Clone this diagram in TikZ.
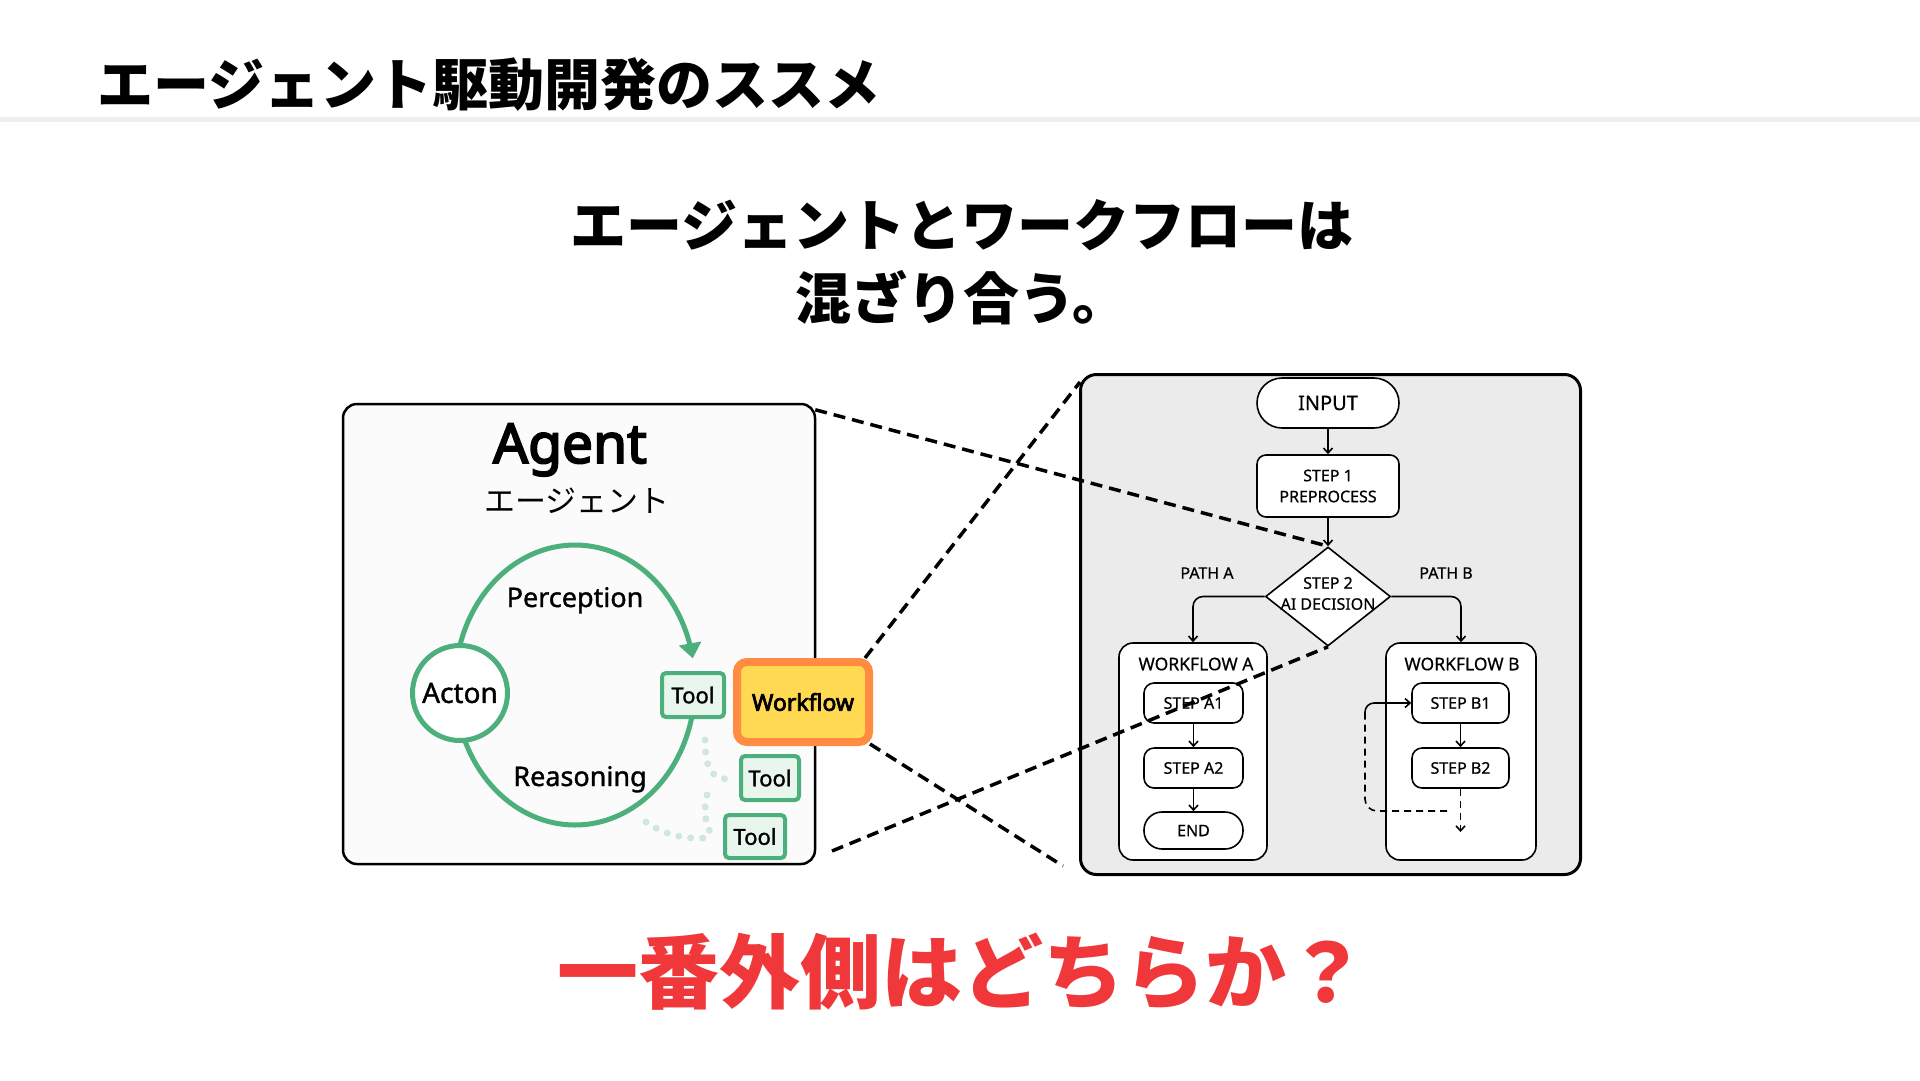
\documentclass[tikz,border=0pt]{standalone}
\usepackage{fontspec}
\setmainfont{Noto Sans}
\newfontfamily\jp{Noto Sans CJK JP}
\newfontfamily\semi[FakeBold=1.3]{Noto Sans}
\newfontfamily\flow[FakeBold=0.5]{Noto Sans}
\newfontfamily\nbold[FakeBold=3.4]{Noto Sans}
\usetikzlibrary{shapes.geometric,arrows.meta,calc}
\definecolor{grn}{HTML}{4DAF7C}
\definecolor{grnfill}{HTML}{E9F6EE}
\definecolor{dotc}{HTML}{CFE8D9}
\definecolor{orng}{HTML}{FF8C42}
\definecolor{yel}{HTML}{FFD951}
\definecolor{redt}{HTML}{F0383A}
\definecolor{panelc}{HTML}{EBEBEB}
\definecolor{sepc}{HTML}{EEEEEE}
\definecolor{agentfill}{HTML}{FBFBFB}
\tikzset{
  bigdash/.style={line width=3.5pt, dash pattern=on 12pt off 7pt, black},
  toolbox/.style={draw=grn, fill=grnfill, line width=4pt, rounded corners=4pt, inner sep=0pt, font=\semi\fontsize{22}{26}\selectfont},
  flowbox/.style={draw, line width=1.6pt, fill=white, inner sep=0pt, font=\flow\fontsize{16}{21}\selectfont, align=center},
  farrow/.style={-{Straight Barb[length=5pt,width=9pt]}, line width=1.6pt},
  dots/.style={dotc, line width=7pt, line cap=round, dash pattern=on 0pt off 12pt},
  loopline/.style={grn, line width=5pt},
  jptitle/.style={font=\jp\bfseries\fontsize{56}{67}\selectfont, inner sep=0pt},
  flabel/.style={font=\flow\fontsize{16}{20}\selectfont, inner sep=0pt},
}
\begin{document}
\begin{tikzpicture}[x=1pt,y=-1pt]
\useasboundingbox (0,0) rectangle (1920,1080);
\fill[white] (0,0) rectangle (1920,1080);

% header
\node[jptitle, anchor=west] (title) at (97.5,84.5) {エージェント駆動開発のススメ};
\draw[sepc, line width=5pt] (0,119) -- (1920,119);

\node[jptitle] (sub1) at (962,225) {エージェントとワークフローは};
\node[jptitle] (sub2) at (962,298) {混ざり合う。};

\node[font=\jp\bfseries\fontsize{81}{96}\selectfont, text=redt, inner sep=0pt] (question) at (962,972) {一番外側はどちらか？};

% agent box
\node[draw, line width=2.5pt, fill=agentfill, rounded corners=14pt, minimum width=472pt, minimum height=460pt, inner sep=0pt] (agentbox) at (579,634) {};
\node[anchor=base, font=\nbold\fontsize{55}{60}\selectfont, inner sep=0pt] (agentlbl) at (570,463) {Agent};
\node[font=\jp\fontsize{31}{36}\selectfont, inner sep=0pt] (agentjp) at (577,501) {エージェント};

% loop
\draw[loopline, -{Triangle[length=15pt,width=22pt]}] plot[domain=168:11, samples=80] ({575+120*cos(\x)},{685-140*sin(\x)});
\draw[loopline] plot[domain=-5:-165, samples=80] ({575+120*cos(\x)},{685-140*sin(\x)});
\node[anchor=base, font=\semi\fontsize{27}{32}\selectfont, inner sep=0pt] (perc) at (575,607) {Perception};
\node[anchor=base, font=\semi\fontsize{27}{32}\selectfont, inner sep=0pt] (reas) at (580,786) {Reasoning};

% dotted trails
\draw[dots] (705,740) .. controls (705,765) and (710,780) .. (730,779);
\draw[dots] (707,795) .. controls (702,815) and (708,830) .. (713,837);
\draw[dots] (646,822) .. controls (668,838) and (695,840) .. (713,837);

\node[circle, draw=grn, line width=5pt, fill=white, minimum size=95pt, inner sep=0pt, font=\semi\fontsize{28}{32}\selectfont] (acton) at (460,693) {Acton};
\node[toolbox, minimum width=62pt, minimum height=44pt] (tool1) at (693,695) {Tool};
\node[toolbox, minimum width=58pt, minimum height=44pt] (tool2) at (770,778) {Tool};
\node[toolbox, minimum width=60pt, minimum height=43pt] (tool3) at (755,836.5) {Tool};
\node[draw=orng, fill=yel, line width=8pt, rounded corners=10pt, minimum width=132pt, minimum height=80pt, inner sep=0pt, font=\nbold\fontsize{23}{26}\selectfont] (wf) at (803,702) {Workflow};

% workflow panel
\node[draw, line width=3pt, fill=panelc, rounded corners=16pt, minimum width=500pt, minimum height=500pt, inner sep=0pt] (panel) at (1330.5,624.5) {};

\node[flowbox, rounded corners=25pt, minimum width=142pt, minimum height=50pt, font=\flow\fontsize{20}{24}\selectfont] (input) at (1328,403) {INPUT};
\node[flowbox, rounded corners=9pt, minimum width=142pt, minimum height=62pt] (step1) at (1328,486) {STEP 1\\PREPROCESS};
\node[diamond, draw, line width=1.6pt, fill=white, minimum width=125pt, minimum height=99pt, inner sep=0pt] (dec) at (1328,596.5) {};
\node[flabel, align=center, font=\flow\fontsize{16}{21}\selectfont] (declbl) at (1328,593.5) {STEP 2\\AI DECISION};
\node[flabel] (patha) at (1207,573) {PATH A};
\node[flabel] (pathb) at (1446,573) {PATH B};

\node[flowbox, rounded corners=14pt, minimum width=148pt, minimum height=217pt] (wfa) at (1193,751.5) {};
\node[flowbox, rounded corners=14pt, minimum width=150pt, minimum height=217pt] (wfb) at (1461,751.5) {};
\node[flabel, font=\flow\fontsize{17.5}{20}\selectfont] (wfalbl) at (1196,664) {WORKFLOW A};
\node[flabel, font=\flow\fontsize{17.5}{20}\selectfont] (wfblbl) at (1462,664) {WORKFLOW B};

\node[flowbox, rounded corners=10pt, minimum width=99pt, minimum height=40pt] (a1) at (1193.5,703) {STEP A1};
\node[flowbox, rounded corners=10pt, minimum width=99pt, minimum height=40pt] (a2) at (1193.5,768) {STEP A2};
\node[flowbox, rounded corners=18pt, minimum width=99pt, minimum height=37pt] (endn) at (1193.5,830.5) {END};
\node[flowbox, rounded corners=10pt, minimum width=97pt, minimum height=40pt] (b1) at (1460.5,703) {STEP B1};
\node[flowbox, rounded corners=10pt, minimum width=97pt, minimum height=40pt] (b2) at (1460.5,768) {STEP B2};

\draw[farrow] (input) -- (step1);
\draw[farrow] (step1) -- (dec);
\draw[farrow, rounded corners=10pt] (dec.west) -| (wfa.north);
\draw[farrow, rounded corners=10pt] (dec.east) -| (wfb.north);
\draw[farrow] (a1) -- (a2);
\draw[farrow] (a2) -- (endn);
\draw[farrow] (b1) -- (b2);
\coordinate (bdown) at (1460.5,832);
\draw[farrow, dash pattern=on 7pt off 5pt] (b2) -- (bdown);
\coordinate (lpa) at (1447,811);
\coordinate (lpb) at (1365,716);
\draw[line width=1.6pt, dash pattern=on 7pt off 5pt, rounded corners=12pt] (lpa) -| (lpb);
\draw[farrow, rounded corners=9pt] (lpb) |- (b1.west);

% zoom lines
\coordinate (l3e) at (1063,866);
\coordinate (l4s) at (832,851);
\draw[bigdash] ($(agentbox.north east)+(-1,7)$) -- (dec.north);
\draw[bigdash] ($(wf.north east)+(-8,0)$) -- ($(panel.north west)+(1,9)$);
\draw[bigdash] ($(wf.south east)+(-3,-2)$) -- (l3e);
\draw[bigdash] (l4s) -- (dec.south);
\end{tikzpicture}
\end{document}
